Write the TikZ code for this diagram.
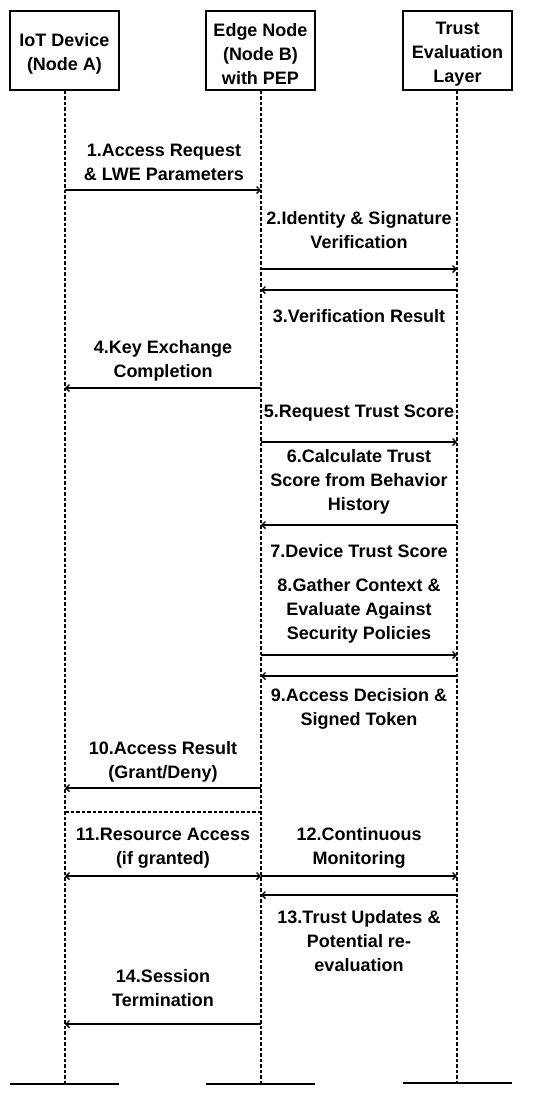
\documentclass[tikz,border=0pt]{standalone}
\usepackage{fontspec}
\setmainfont{Liberation Sans}
\usetikzlibrary{arrows.meta}
\begin{document}
\begin{tikzpicture}[x=1pt,y=-1pt,
  actor/.style={draw,line width=1.6pt,minimum width=109pt,minimum height=79pt,align=center,font=\fontsize{18}{24}\selectfont\bfseries,inner sep=0pt},
  lifeline/.style={dashed,dash pattern=on 3.5pt off 2pt,line width=1.4pt},
  foot/.style={line width=1.8pt},
  msg/.style={line width=1.4pt,-{Straight Barb[length=3.5pt,width=7pt]}},
  dmsg/.style={line width=1.4pt,{Straight Barb[length=3.5pt,width=7pt]}-{Straight Barb[length=3.5pt,width=7pt]}},
  lbl/.style={align=center,font=\fontsize{18}{24}\selectfont\bfseries,inner sep=0pt}]
\useasboundingbox (0,0) rectangle (550,1096);
% actors
\node[actor] (a) at (64.5,50.5) {\rule{0pt}{20pt}IoT Device\\(Node A)};
\node[actor] (b) at (260.5,50.5) {\rule{0pt}{20pt}Edge Node\\(Node B)\\with PEP};
\node[actor] (c) at (457.5,50.5) {\rule{0pt}{20pt}Trust\\Evaluation\\Layer};
% lifeline ends
\coordinate (ae) at (65,1084);
\coordinate (be) at (261,1084);
\coordinate (ce) at (457,1083);
\draw[lifeline] (a.south -| ae) -- (ae);
\draw[lifeline] (b.south -| be) -- (be);
\draw[lifeline] (c.south -| ce) -- (ce);
\coordinate (af1) at (10,1084); \coordinate (af2) at (119,1084);
\coordinate (bf1) at (206,1084); \coordinate (bf2) at (315,1084);
\coordinate (cf1) at (403,1083); \coordinate (cf2) at (512,1083);
\draw[foot] (af1) -- (af2);
\draw[foot] (bf1) -- (bf2);
\draw[foot] (cf1) -- (cf2);
% message endpoints
\foreach \n/\y in {1/190,4/388,10/788,d/812,11/876,14/1024}{
  \coordinate (pa\n) at (65,\y);}
\foreach \n/\y in {1/190,2/269,3/290,4/388,5/442,6/525,8/655,9/676,10/788,d/812,11/876,13/895,14/1024}{
  \coordinate (pb\n) at (261,\y);}
\foreach \n/\y in {2/269,3/290,5/442,6/525,8/655,9/676,11/876,13/895}{
  \coordinate (pc\n) at (457,\y);}
% messages
\draw[msg] (pa1) -- (pb1);
\draw[msg] (pb2) -- (pc2);
\draw[msg] (pc3) -- (pb3);
\draw[msg] (pb4) -- (pa4);
\draw[msg] (pb5) -- (pc5);
\draw[msg] (pc6) -- (pb6);
\draw[msg] (pb8) -- (pc8);
\draw[msg] (pc9) -- (pb9);
\draw[msg] (pb10) -- (pa10);
\draw[lifeline] (pad) -- (pbd);
\draw[dmsg] (pa11) -- (pb11);
\draw[msg] (pb11) -- (pc11);
\draw[msg] (pc13) -- (pb13);
\draw[msg] (pb14) -- (pa14);
% labels
\node[lbl] (l1) at (164,162) {1.Access Request\\\& LWE Parameters};
\node[lbl] (l2) at (359,230) {2.Identity \& Signature\\Verification};
\node[lbl] (l3) at (359,316) {3.Verification Result};
\node[lbl] (l4) at (163,361) {4.Key Exchange\\Completion};
\node[lbl] (l5) at (359,413) {5.Request Trust Score};
\node[lbl] (l6) at (359,482) {6.Calculate Trust\\Score from Behavior\\History};
\node[lbl] (l7) at (359,551) {7.Device Trust Score};
\node[lbl] (l8) at (359,611) {8.Gather Context \&\\Evaluate Against\\Security Policies};
\node[lbl] (l9) at (359,709) {9.Access Decision \&\\Signed Token};
\node[lbl] (l10) at (163,762) {10.Access Result\\(Grant/Deny)};
\node[lbl] (l11) at (163,848) {11.Resource Access\\(if granted)};
\node[lbl] (l12) at (359,848) {12.Continuous\\Monitoring};
\node[lbl] (l13) at (359,941) {13.Trust Updates \&\\Potential re-\\evaluation};
\node[lbl] (l14) at (163,988) {14.Session\\Termination};
\end{tikzpicture}
\end{document}
